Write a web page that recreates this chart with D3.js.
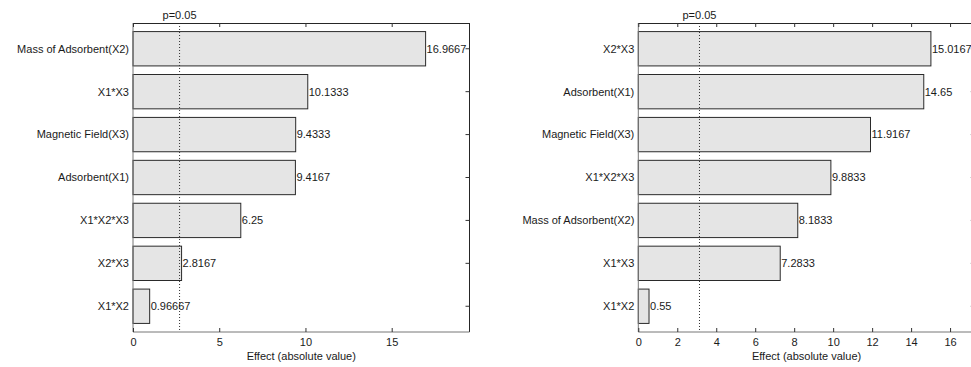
<!DOCTYPE html>
<html>
<head>
<meta charset="utf-8">
<script src="https://cdn.jsdelivr.net/npm/d3@7/dist/d3.min.js"></script>
<style>
  html, body { margin: 0; padding: 0; background: #fff; }
  svg { display: block; }
  text { font-family: "Liberation Sans", Arial, sans-serif; font-size: 11px; fill: #1a1a1a; }
</style>
</head>
<body>
<svg id="chart" width="971" height="367"></svg>
<script>
// ---- data ----
const leftCategories = ["Mass of Adsorbent(X2)", "X1*X3", "Magnetic Field(X3)", "Adsorbent(X1)", "X1*X2*X3", "X2*X3", "X1*X2"];
const leftValues = [16.9667, 10.1333, 9.4333, 9.4167, 6.25, 2.8167, 0.96667];
const leftLabels = ["16.9667", "10.1333", "9.4333", "9.4167", "6.25", "2.8167", "0.96667"];
const leftTicks = [0, 5, 10, 15];
const leftPLine = 2.70;

const rightCategories = ["X2*X3", "Adsorbent(X1)", "Magnetic Field(X3)", "X1*X2*X3", "Mass of Adsorbent(X2)", "X1*X3", "X1*X2"];
const rightValues = [15.0167, 14.65, 11.9167, 9.8833, 8.1833, 7.2833, 0.55];
const rightLabels = ["15.0167", "14.65", "11.9167", "9.8833", "8.1833", "7.2833", "0.55"];
const rightTicks = [0, 2, 4, 6, 8, 10, 12, 14, 16];
const rightPLine = 3.14;

const pLabel = "p=0.05";
const xTitle = "Effect (absolute value)";

const svg = d3.select("#chart");

function panel(x0, categories, values, labels, ticks, pLine) {
  const top = 23, bottom = 332, w = 336.5;
  const xMax = d3.max(values) * 1.15;
  const x = d3.scaleLinear().domain([0, xMax]).range([x0, x0 + w]);
  const y = d3.scaleBand().domain(categories).range([top, bottom]).padding(0.2);
  const g = svg.append("g");
  const tickLen = 4;

  // bars
  g.selectAll("rect.bar").data(values).enter().append("rect")
    .attr("class", "bar")
    .attr("x", x(0))
    .attr("y", (d, i) => y(categories[i]))
    .attr("width", d => x(d) - x(0))
    .attr("height", y.bandwidth())
    .attr("fill", "#e5e5e5")
    .attr("stroke", "#2a2a2a")
    .attr("stroke-width", 1);

  // p line
  g.append("line")
    .attr("x1", x(pLine)).attr("x2", x(pLine))
    .attr("y1", top).attr("y2", bottom)
    .attr("stroke", "#333").attr("stroke-width", 1)
    .attr("stroke-dasharray", "1,2");
  g.append("text").attr("x", x(pLine)).attr("y", 19)
    .attr("text-anchor", "middle").text(pLabel);

  // value labels
  g.selectAll("text.val").data(values).enter().append("text")
    .attr("class", "val")
    .attr("x", d => x(d) + 1)
    .attr("y", (d, i) => y(categories[i]) + y.bandwidth() / 2)
    .attr("dy", "0.35em")
    .text((d, i) => labels[i]);

  // category labels
  g.selectAll("text.cat").data(categories).enter().append("text")
    .attr("class", "cat")
    .attr("x", x0 - 4)
    .attr("y", d => y(d) + y.bandwidth() / 2)
    .attr("dy", "0.35em")
    .attr("text-anchor", "end")
    .text(d => d);

  // axes box
  const xl = x(0), xr = x0 + w;
  g.append("line").attr("x1", xl).attr("x2", xr).attr("y1", top + 0.5).attr("y2", top + 0.5).attr("stroke", "#262626");
  g.append("line").attr("x1", xr).attr("x2", xr).attr("y1", top).attr("y2", bottom).attr("stroke", "#262626");
  g.append("line").attr("x1", xl).attr("x2", xr).attr("y1", bottom).attr("y2", bottom).attr("stroke", "#777");
  g.append("line").attr("x1", xl).attr("x2", xl).attr("y1", top).attr("y2", bottom).attr("stroke", "#777");

  // bottom axis with inward ticks
  const axB = d3.axisBottom(x).tickValues(ticks).tickSize(-tickLen).tickPadding(6).tickFormat(d3.format("d"));
  const gb = g.append("g").attr("transform", `translate(0,${bottom})`).call(axB);
  gb.select(".domain").remove();
  gb.selectAll("line").attr("stroke", "#333");
  gb.selectAll("text").attr("font-size", 11).attr("font-family", null).attr("fill", "#1a1a1a");

  // top ticks inward
  const axT = d3.axisTop(x).tickValues(ticks).tickSize(-tickLen).tickFormat("");
  const gt = g.append("g").attr("transform", `translate(0,${top})`).call(axT);
  gt.select(".domain").remove();
  gt.selectAll("line").attr("stroke", "#333");

  // right ticks inward
  const axR = d3.axisRight(y).tickSize(-tickLen).tickFormat("");
  const gr = g.append("g").attr("transform", `translate(${xr},0)`).call(axR);
  gr.select(".domain").remove();
  gr.selectAll("line").attr("stroke", "#333");

  // x title
  g.append("text").attr("x", (xl + xr) / 2).attr("y", 360)
    .attr("text-anchor", "middle").text(xTitle);
}

panel(133, leftCategories, leftValues, leftLabels, leftTicks, leftPLine);
panel(638.3, rightCategories, rightValues, rightLabels, rightTicks, rightPLine);
</script>
</body>
</html>
